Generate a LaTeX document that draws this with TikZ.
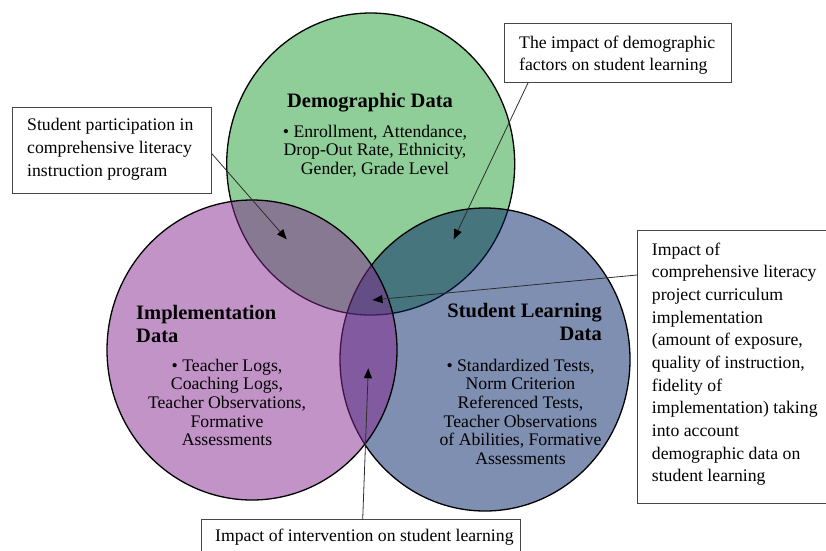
\documentclass[tikz,border=0pt]{standalone}
\usepackage{fontspec}
\setmainfont{Liberation Serif}
\usetikzlibrary{arrows.meta,calc}
\definecolor{cgreen}{RGB}{31,155,51}
\definecolor{cblue}{RGB}{0,31,99}
\definecolor{cpurple}{RGB}{131,39,143}
\definecolor{boxline}{RGB}{70,70,70}
\definecolor{arrline}{RGB}{45,45,45}
\tikzset{
  venn/.style={line width=1.3pt, draw=black, fill opacity=0.5},
  callout/.style={draw=boxline, line width=0.9pt, fill=white, inner sep=0pt, anchor=north west},
  boxtxt/.style={inner sep=0pt, anchor=base west, font=\fontsize{17.7}{22.67}\selectfont},
  vtitle/.style={inner sep=0pt, font=\fontsize{20.5}{23}\selectfont\bfseries},
  vbody/.style={inner sep=0pt, anchor=base, font=\fontsize{17.7}{18.7}\selectfont},
  pointer/.style={draw=arrline, line width=0.8pt, -{Triangle[length=10pt,width=8pt,color=black]}}
}
\begin{document}
\begin{tikzpicture}[x=1pt,y=-1pt]
\useasboundingbox (0,0) rectangle (826,550);
\clip (0,0) rectangle (826,550);
% circles
\draw[venn, fill=cgreen] (370.7,164) ellipse [x radius=144pt, y radius=151pt];
\draw[venn, fill=cblue] (485,359.5) ellipse [x radius=145pt, y radius=151.5pt];
\draw[venn, fill=cpurple] (252,350) ellipse [x radius=145pt, y radius=150pt];
% circle texts
\node[vtitle, anchor=base] (dtitle) at (370,107) {Demographic Data};
\node[vbody] (dbody) at (375,137) {\parbox[t]{210pt}{\centering •~Enrollment, Attendance,\hspace*{5pt}\\Drop-Out Rate, Ethnicity,\\Gender, Grade Level}};
\node[vtitle, anchor=base west] (ititle) at (136,319) {\parbox[t]{200pt}{\raggedright Implementation\\Data}};
\node[vbody] (ibody) at (227,371) {\parbox[t]{200pt}{\centering •~Teacher Logs,\hspace*{8pt}\\Coaching Logs,\\Teacher Observations,\\Formative\\Assessments}};
\node[vtitle, anchor=base east] (stitle) at (602,317) {\parbox[t]{200pt}{\raggedleft Student Learning\\Data}};
\node[vbody] (sbody) at (520.5,371) {\parbox[t]{200pt}{\centering •~Standardized Tests,\hspace*{12pt}\\Norm Criterion\\Referenced Tests,\\Teacher Observations\\of Abilities, Formative\\Assessments}};
% callout boxes
\node[callout, minimum width=199pt, minimum height=86pt] (b1) at (12,107) {};
\node[boxtxt] (b1t) at (27,130.7) {\parbox[t]{190pt}{\raggedright Student participation in\\comprehensive literacy\\instruction program}};
\node[callout, minimum width=227pt, minimum height=59pt] (b2) at (504,23) {};
\node[boxtxt] (b2t) at (519,48.3) {\parbox[t]{220pt}{\raggedright The impact of demographic\\factors on student learning}};
\node[callout, minimum width=200pt, minimum height=273pt] (b3) at (637,230) {};
\node[boxtxt] (b3t) at (651.7,255) {\parbox[t]{200pt}{\raggedright Impact of\\comprehensive literacy\\project curriculum\\implementation\\(amount of exposure,\\quality of instruction,\\fidelity of\\implementation) taking\\into account\\demographic data on\\student learning}};
\node[callout, minimum width=319.3pt, minimum height=45pt] (b4) at (200.7,519.3) {};
\node[boxtxt] (b4t) at (215,541.7) {Impact of intervention on student learning};
% arrow targets
\coordinate (t1) at (286.7,239.3);
\coordinate (t2) at (453.7,239.3);
\coordinate (t3) at (372.5,300);
\coordinate (t4) at (368.3,368.3);
% arrows
\draw[pointer] ($(b1.east)+(0,3.3)$) -- (t1);
\draw[pointer] ($(b2.south west)+(24,0)$) -- (t2);
\draw[pointer] ($(b3.north west)+(0,45)$) -- (t3);
\draw[pointer] ($(b4.north west)+(162,0)$) -- (t4);
\end{tikzpicture}
\end{document}
